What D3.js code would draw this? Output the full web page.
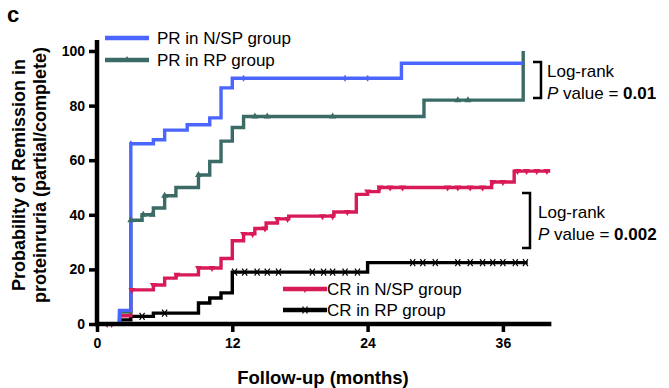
<!DOCTYPE html>
<html>
<head>
<meta charset="utf-8">
<script src="https://cdn.jsdelivr.net/npm/d3@7"></script>
<style>
  html, body { margin: 0; padding: 0; background: #fff; }
  svg { display: block; font-family: "Liberation Sans", Arial, Helvetica, sans-serif; }
</style>
</head>
<body>
<svg id="chart" width="669" height="388"></svg>
<script>
// Kaplan-Meier style remission curves: [month, % in remission]
const prNSP = [[0,0],[2,5],[3,66],[5,67.5],[6,71],[8,73],[10,75.5],[11,86.5],[12,90],[27,95.5],[37.8,95.5]];
const prRP  = [[0,0],[2,4.4],[3,38],[4,40],[5,42.5],[6,47],[7,50],[9,54.6],[10,59.5],[11,67],[12,72],[13,76],[29,82],[37.8,82],[37.8,100]];
const crNSP = [[0,0],[2,3],[3,12.5],[5,14.3],[6,16.8],[7,18],[9,20.5],[11,24],[12,30.5],[13,33],[14,35],[15,37],[16,38.5],[17,39.5],[21,41],[23,47.5],[24,48.5],[25,50],[35,52],[37,56],[40.2,56]];
const crRP  = [[0,0],[2,1.5],[3,2.8],[5,4],[9,7.7],[10,9.5],[11,11.4],[12,19],[24,22.5],[38.2,22.5]];

// censored observations (months)
const prNSPCensor = [3, 13, 22, 24];
const prRPCensor  = [3, 4.1, 4.9, 6, 9, 14, 15.1, 20.9, 32, 32.9];
const crNSPCensor = [0.9, 1.3, 3.1, 5, 7.1, 9, 10.2, 13, 13.8, 14.9, 16, 16.9, 20, 20.9, 22.2, 24, 25.1, 26, 27.1, 31.1, 32, 33.1, 34.2, 35.1, 36, 37.3, 38.1, 39, 39.9];
const crRPCensor  = [4, 6, 12.2, 13.1, 14.2, 15.1, 16.1, 19.1, 20.1, 20.9, 22, 23.1, 28, 28.9, 30, 32, 33.1, 34.2, 35.1, 36, 37.1, 38];

const xTicks = [0, 12, 24, 36];
const yTicks = [0, 20, 40, 60, 80, 100];

const seriesNames = ["PR in N/SP group", "PR in RP group", "CR in N/SP group", "CR in RP group"];
const colors = ["#4a66ff", "#3b6b67", "#d81b57", "#000000"];

const svg = d3.select("#chart");
const x = d3.scaleLinear().domain([0, 40]).range([97, 548]);
const y = d3.scaleLinear().domain([0, 100]).range([324, 51]);

const curves = [prNSP, prRP, crNSP, crRP];
const censors = [prNSPCensor, prRPCensor, crNSPCensor, crRPCensor];

// value of a step curve at time t
function stepValue(data, t) {
  let v = data[0][1];
  for (const d of data) { if (d[0] <= t) v = d[1]; }
  return v;
}

const line = d3.line().x(d => x(d[0])).y(d => y(d[1])).curve(d3.curveStepAfter);

// draw back to front so the PR curves sit on top at the start
const order = [3, 2, 1, 0];
order.forEach(i => {
  svg.append("path")
    .attr("d", line(curves[i]))
    .attr("fill", "none")
    .attr("stroke", colors[i])
    .attr("stroke-width", 3.4)
    .attr("stroke-linejoin", "miter");
});

// censor markers
function marker(g, i, cx, cy) {
  const c = colors[i];
  if (i === 0) {
    g.append("line").attr("x1", cx).attr("x2", cx).attr("y1", cy - 3).attr("y2", cy + 3)
      .attr("stroke", c).attr("stroke-width", 1.6);
  } else if (i === 1) {
    g.append("path").attr("d", `M${cx - 3.5},${cy + 2} L${cx + 3.5},${cy + 2} L${cx},${cy - 4} Z`).attr("fill", c);
  } else if (i === 2) {
    g.append("path").attr("d", `M${cx - 3.5},${cy - 2} L${cx + 3.5},${cy - 2} L${cx},${cy + 4} Z`).attr("fill", c);
  } else {
    g.append("path").attr("d", `M${cx - 2.5},${cy - 3.5} L${cx + 2.5},${cy + 3.5} M${cx + 2.5},${cy - 3.5} L${cx - 2.5},${cy + 3.5}`)
      .attr("stroke", c).attr("stroke-width", 1.2);
  }
}

order.forEach(i => {
  const g = svg.append("g");
  censors[i].forEach(t => marker(g, i, x(t), y(stepValue(curves[i], t))));
});

// axes
const axisW = 4.5;
svg.append("line").attr("x1", x(0)).attr("x2", x(0)).attr("y1", y(104)).attr("y2", y(0) + axisW / 2)
  .attr("stroke", "#000").attr("stroke-width", axisW);
svg.append("line").attr("x1", x(0) - 2).attr("x2", x(40.3)).attr("y1", y(0)).attr("y2", y(0))
  .attr("stroke", "#000").attr("stroke-width", axisW);

const yAxis = d3.axisLeft(y).tickValues(yTicks).tickSize(6).tickPadding(4);
const yg = svg.append("g").attr("transform", `translate(${x(0) - 2},0)`).call(yAxis);
yg.select(".domain").remove();
yg.selectAll(".tick line").attr("stroke", "#000").attr("stroke-width", 3.5);
yg.selectAll(".tick text").attr("font-size", 14).attr("font-weight", "bold").attr("fill", "#000")
  .attr("font-family", "'Liberation Sans', Arial, sans-serif");

const xAxis = d3.axisBottom(x).tickValues(xTicks).tickSize(6).tickPadding(6);
const xg = svg.append("g").attr("transform", `translate(0,${y(0) + 2})`).call(xAxis);
xg.select(".domain").remove();
xg.selectAll(".tick line").attr("stroke", "#000").attr("stroke-width", 3.5);
xg.selectAll(".tick text").attr("font-size", 14).attr("font-weight", "bold").attr("fill", "#000")
  .attr("font-family", "'Liberation Sans', Arial, sans-serif");

// axis titles
svg.append("text").attr("x", 323).attr("y", 384).attr("text-anchor", "middle")
  .attr("font-size", 18.5).attr("font-weight", "bold").text("Follow-up (months)");

const yt = svg.append("text").attr("transform", "translate(25,175) rotate(-90)")
  .attr("text-anchor", "middle").attr("font-size", 18).attr("font-weight", "bold");
yt.append("tspan").attr("x", 0).attr("y", 0).text("Probability of Remission in");
yt.append("tspan").attr("x", 0).attr("y", 21).text("proteinruria (partial/complete)");

// panel letter
svg.append("text").attr("x", 7).attr("y", 22).attr("font-size", 22).attr("font-weight", "bold").text("c");

// legends
function legendItem(i, lx, ly, tx) {
  svg.append("line").attr("x1", lx).attr("x2", lx + 44).attr("y1", ly).attr("y2", ly)
    .attr("stroke", colors[i]).attr("stroke-width", 4.5);
  if (i > 0) marker(svg, i, lx + 22, ly);
  svg.append("text").attr("x", tx).attr("y", ly + 6).attr("font-size", 17).text(seriesNames[i]);
}
legendItem(0, 105, 38, 157);
legendItem(1, 105, 60, 157);
legendItem(2, 283, 289, 327);
legendItem(3, 283, 310, 327);

// log-rank annotations
function bracket(bx, y1, y2) {
  svg.append("path").attr("d", `M${bx - 8},${y1} H${bx} V${y2} H${bx - 8}`)
    .attr("fill", "none").attr("stroke", "#000").attr("stroke-width", 2.5);
}
function pText(tx, ty, pv) {
  svg.append("text").attr("x", tx).attr("y", ty).attr("font-size", 17).text("Log-rank");
  const t = svg.append("text").attr("x", tx).attr("y", ty + 22).attr("font-size", 17);
  t.append("tspan").attr("font-style", "italic").text("P");
  t.append("tspan").text(" value = ");
  t.append("tspan").attr("font-weight", "bold").text(pv);
}
bracket(541, 62, 98);
pText(547, 77, "0.01");
bracket(530, 193, 248);
pText(538, 218, "0.002");
</script>
</body>
</html>
